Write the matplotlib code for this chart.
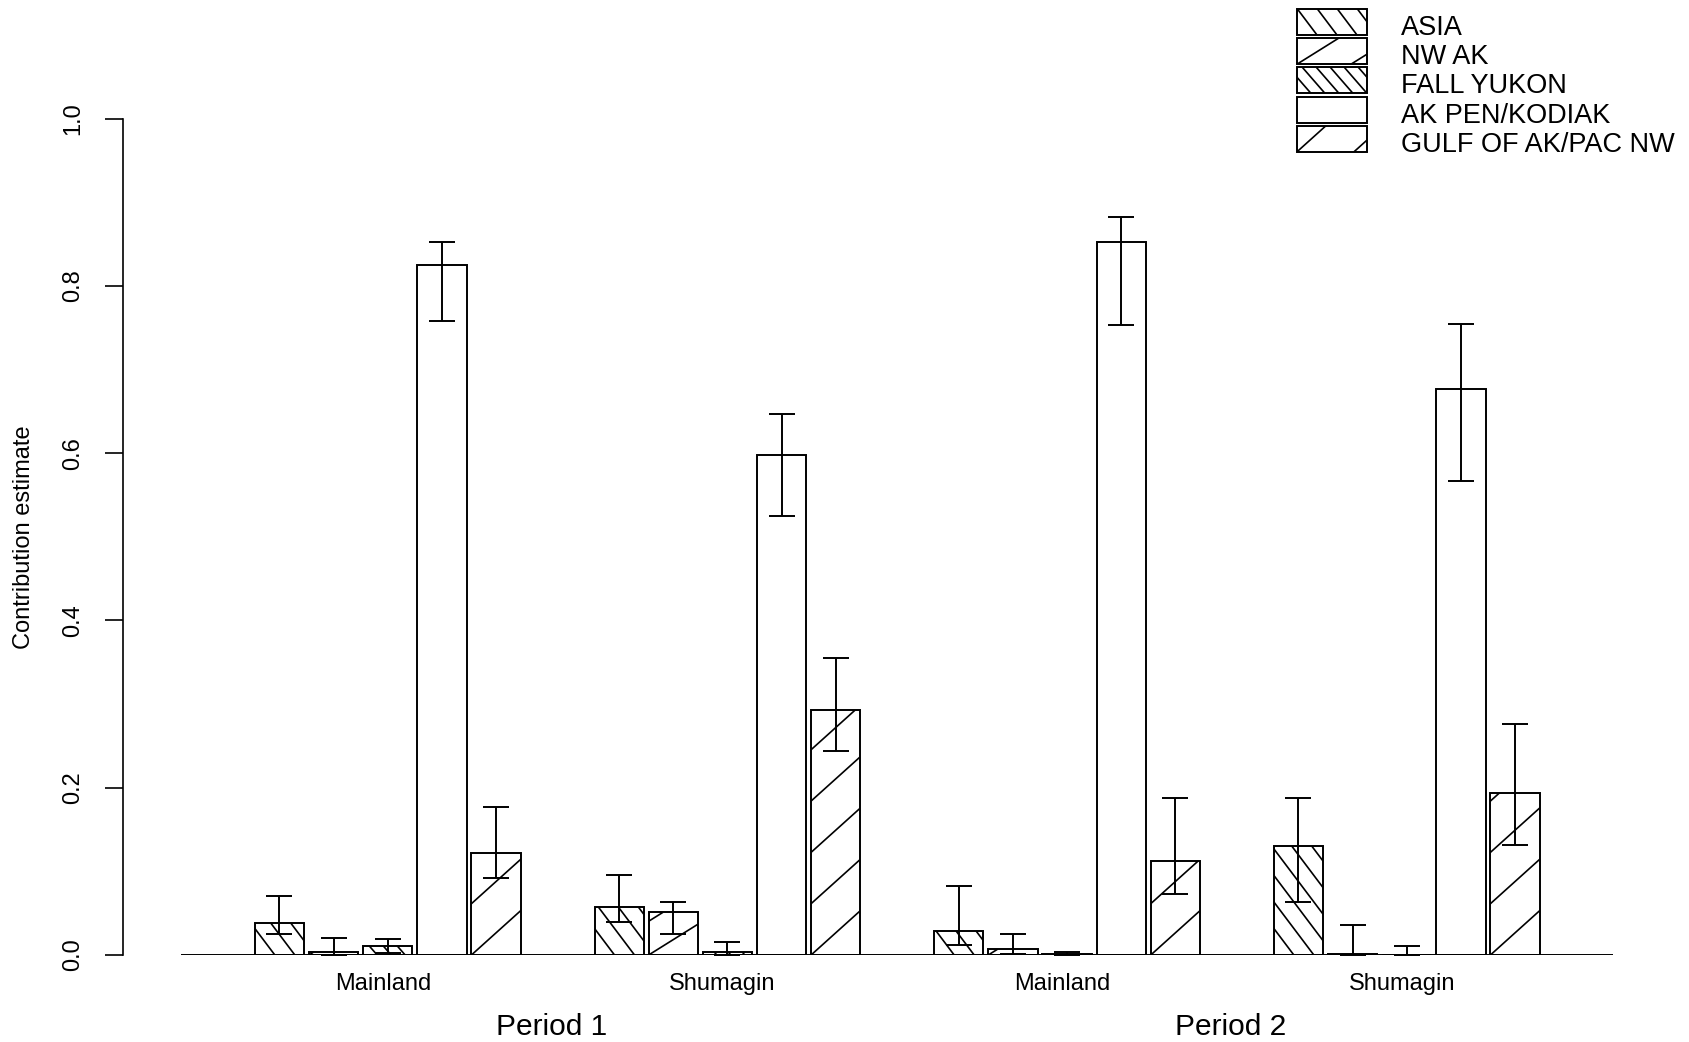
"""
Stock contribution estimates by area and period, drawn as grouped
bar charts with hatch fills and 90% interval error bars.
"""

import matplotlib.pyplot as plt
import numpy as np
from matplotlib.lines import Line2D
from matplotlib.patches import Rectangle
from matplotlib.transforms import IdentityTransform, blended_transform_factory

plt.rcParams['font.family'] = ['Liberation Sans', 'DejaVu Sans']

stocks = ['ASIA', 'NW AK', 'FALL YUKON', 'AK PEN/KODIAK', 'GULF OF AK/PAC NW']
areas = ['Mainland', 'Shumagin', 'Mainland', 'Shumagin']
periods = ['Period 1', 'Period 2']

# estimate, lower and upper bound for each stock
mainland_1 = [0.038, 0.003, 0.011, 0.825, 0.122]
mainland_1_lo = [0.025, 0.000, 0.002, 0.758, 0.092]
mainland_1_hi = [0.070, 0.020, 0.019, 0.853, 0.177]

shumagin_1 = [0.057, 0.051, 0.003, 0.598, 0.293]
shumagin_1_lo = [0.040, 0.025, 0.000, 0.525, 0.244]
shumagin_1_hi = [0.096, 0.063, 0.015, 0.647, 0.355]

mainland_2 = [0.029, 0.007, 0.001, 0.853, 0.112]
mainland_2_lo = [0.012, 0.001, 0.000, 0.753, 0.073]
mainland_2_hi = [0.083, 0.025, 0.004, 0.882, 0.188]

shumagin_2 = [0.130, 0.001, 0.000, 0.677, 0.194]
shumagin_2_lo = [0.063, 0.000, 0.000, 0.567, 0.132]
shumagin_2_hi = [0.188, 0.036, 0.011, 0.755, 0.276]

groups = [
    (mainland_1, mainland_1_lo, mainland_1_hi),
    (shumagin_1, shumagin_1_lo, shumagin_1_hi),
    (mainland_2, mainland_2_lo, mainland_2_hi),
    (shumagin_2, shumagin_2_lo, shumagin_2_hi),
]

# hatch per stock: (angle in degrees, horizontal spacing in pixels)
hatches = [(-53, 20), (32, 54), (-49, 14), None, (42, 57)]

W, H = 1690, 1042
fig = plt.figure(figsize=(W / 100, H / 100), dpi=100)
ax = fig.add_axes([181 / W, 87 / H, 1432.5 / W, 836.4 / H])
ax.patch.set_visible(False)

bar_w, bar_step, group_step = 1.0, 1.1, 6.9
ax.set_xlim(-1.5, 3 * group_step + 4 * bar_step + bar_w + 1.5)
ax.set_ylim(0, 1)


def hatch(axis, patch, spec, lw=1.2):
    # diagonal lines in pixel space, clipped to the patch outline
    box = patch.get_window_extent()
    if spec is None or box.height < 1:
        return
    angle, step = spec
    x0, y0, x1, y1 = box.x0, box.y0, box.x1, box.y1
    run = (y1 - y0) / np.tan(np.radians(angle))
    lo = x0 - max(run, 0) - step
    hi = x1 - min(run, 0) + step
    start = x0 + np.floor((lo - x0) / step) * step
    for xb in np.arange(start, hi, step):
        ln = Line2D([xb, xb + run], [y0, y1], transform=IdentityTransform(),
                    color='black', lw=lw, zorder=2, solid_capstyle='butt')
        axis.add_line(ln)
        ln.set_clip_path(patch)


for g, (est, lo, hi) in enumerate(groups):
    left = g * group_step + np.arange(len(stocks)) * bar_step
    est = np.array(est)
    bars = ax.bar(left, est, width=bar_w, align='edge', color='white',
                  edgecolor='black', linewidth=1.4, zorder=1)
    for bar, spec in zip(bars, hatches):
        hatch(ax, bar, spec)
    ax.errorbar(left + bar_w / 2, est,
                yerr=[est - np.array(lo), np.array(hi) - est],
                fmt='none', ecolor='black', elinewidth=1.4,
                capsize=9.4, capthick=1.4, zorder=3)

ax.axhline(0, color='black', lw=1.4, zorder=4)

for side in ['top', 'right', 'bottom']:
    ax.spines[side].set_visible(False)
ax.spines['left'].set_position(('outward', 41.8))
ax.spines['left'].set_bounds(0, 1)
ax.spines['left'].set_linewidth(1.2)
ax.set_xticks([])
ax.set_yticks(np.arange(0, 1.01, 0.2))
ax.set_yticklabels(['%.1f' % v for v in np.arange(0, 1.01, 0.2)], va='center')
ax.tick_params(axis='y', length=13, width=1.2, pad=15, labelsize=17,
               labelrotation=90)

fig.text(23.7 / W, (87 + 836.4 / 2) / H, 'Contribution estimate',
         rotation=90, ha='center', va='center', fontsize=17)

# area labels under each group, period labels under each pair
xfig = blended_transform_factory(ax.transData, fig.transFigure)
span = 4 * bar_step + bar_w
centers = [g * group_step + span / 2 for g in range(len(areas))]
for c, name in zip(centers, areas):
    ax.text(c - 0.1, 52 / H, name, transform=xfig, ha='center',
            va='baseline', fontsize=17)
for p, name in enumerate(periods):
    mid = (centers[2 * p] + centers[2 * p + 1]) / 2
    ax.text(mid - 0.12, 7 / H, name, transform=xfig, ha='center',
            va='baseline', fontsize=21.5)

# legend keys, laid out in pixel coordinates from the top left
lax = fig.add_axes([0, 0, 1, 1], zorder=-1)
lax.set_xlim(0, W)
lax.set_ylim(H, 0)
lax.axis('off')
for i, (name, spec) in enumerate(zip(stocks, hatches)):
    top = 9 + i * 29.2
    key = Rectangle((1297, top), 70, 26, facecolor='white',
                    edgecolor='black', lw=1.4, zorder=1)
    lax.add_patch(key)
    hatch(lax, key, spec)
    lax.text(1401, top + 19, name, ha='left', va='center', fontsize=19.5)

fig.savefig('out.png', dpi=100)
